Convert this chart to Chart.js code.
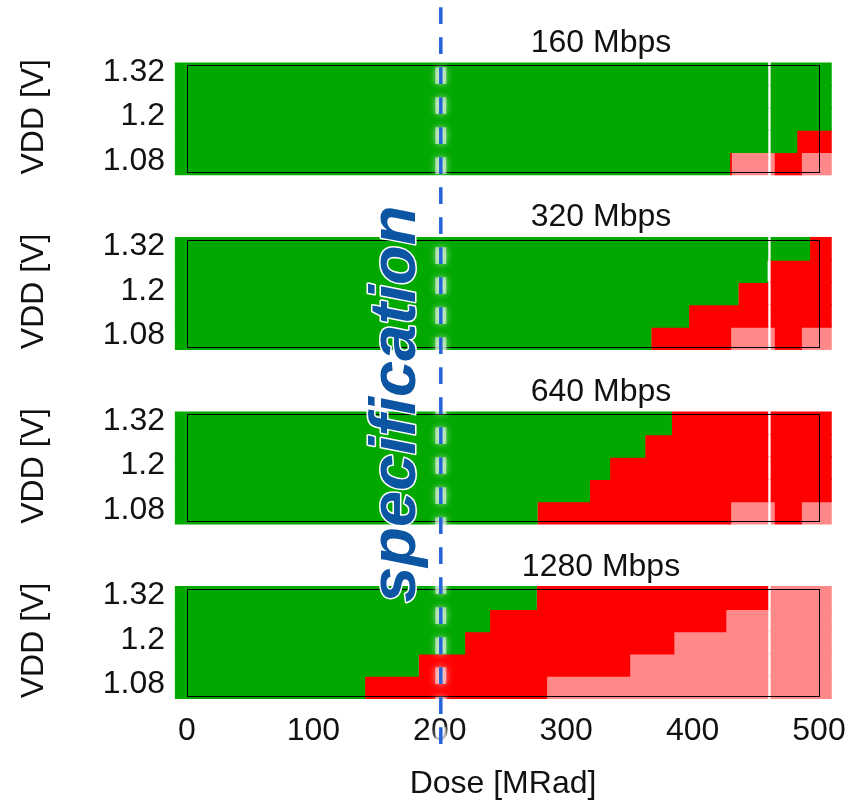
<!DOCTYPE html>
<html>
<head>
<meta charset="utf-8">
<script src="https://cdn.jsdelivr.net/npm/chart.js@4/dist/chart.umd.min.js"></script>
<style>
  html, body { margin: 0; padding: 0; background: #fff; }
  #wrap { position: relative; width: 859px; height: 801px; }
</style>
</head>
<body>
<div id="wrap"><canvas id="scan"></canvas></div>
<script>
// VDD rows, bottom to top
const vddLevels = [1.08, 1.14, 1.2, 1.26, 1.32];
const vddTicks = [1.08, 1.2, 1.32];
const doseTicks = [0, 100, 200, 300, 400, 500];
const rateLabels = ['160 Mbps', '320 Mbps', '640 Mbps', '1280 Mbps'];
const specDose = 200;

// one list per VDD row (bottom to top): [status, dose from, dose to]
// G = pass, R = fail, P = light red
const scan160 = [
  [['G', -9.5, 429.6], ['R', 429.6, 431], ['P', 431, 459.8], ['P', 461.8, 465], ['R', 465, 486.4], ['P', 486.4, 510]],
  [['G', -9.5, 459.8], ['G', 461.8, 482.7], ['R', 482.7, 510]],
  [['G', -9.5, 459.8], ['G', 461.8, 510]],
  [['G', -9.5, 459.8], ['G', 461.8, 510]],
  [['G', -9.5, 459.8], ['G', 461.8, 510]]
];
const scan320 = [
  [['G', -9.5, 367.3], ['R', 367.3, 430.4], ['P', 430.4, 459.8], ['P', 461.8, 465], ['R', 465, 486.4], ['P', 486.4, 510]],
  [['G', -9.5, 397.2], ['R', 397.2, 459.8], ['R', 461.8, 510]],
  [['G', -9.5, 436.2], ['R', 436.2, 459.8], ['R', 461.8, 510]],
  [['G', -9.5, 459.3], ['R', 461.8, 510]],
  [['G', -9.5, 459.8], ['G', 461.8, 492.9], ['R', 492.9, 510]]
];
const scan640 = [
  [['G', -9.5, 277.3], ['R', 277.3, 430.4], ['P', 430.4, 459.8], ['P', 461.8, 465], ['R', 465, 486.4], ['P', 486.4, 510]],
  [['G', -9.5, 318.7], ['R', 318.7, 459.8], ['R', 461.8, 510]],
  [['G', -9.5, 334.7], ['R', 334.7, 459.8], ['R', 461.8, 510]],
  [['G', -9.5, 362.5], ['R', 362.5, 459.8], ['R', 461.8, 510]],
  [['G', -9.5, 383.6], ['R', 383.6, 459.8], ['R', 461.8, 510]]
];
const scan1280 = [
  [['G', -9.5, 140.9], ['R', 140.9, 284.8], ['P', 284.8, 459.8], ['P', 461.8, 510]],
  [['G', -9.5, 183.3], ['R', 183.3, 350.6], ['P', 350.6, 459.8], ['P', 461.8, 510]],
  [['G', -9.5, 220], ['R', 220, 385.6], ['P', 385.6, 459.8], ['P', 461.8, 510]],
  [['G', -9.5, 239.7], ['R', 239.7, 426.7], ['P', 426.7, 459.8], ['P', 461.8, 510]],
  [['G', -9.5, 276.7], ['R', 276.7, 459.8], ['P', 461.8, 510]]
];

const scans = [scan160, scan320, scan640, scan1280];
const statusColors = { G: '#00a800', R: '#ff0000', P: '#ff8888' };
const FONT = '"Liberation Sans", Arial, sans-serif';

// one floating-bar dataset per panel and status
const datasets = [];
scans.forEach((rows, p) => {
  Object.keys(statusColors).forEach(code => {
    const pts = [];
    rows.forEach((segs, r) => {
      segs.forEach(([s, from, to]) => {
        if (s === code) pts.push({ x: [from, to], y: vddLevels[r] });
      });
    });
    datasets.push({
      label: rateLabels[p] + ' ' + code,
      data: pts,
      yAxisID: 'y' + p,
      backgroundColor: statusColors[code],
      borderWidth: 0,
      inflateAmount: 0.1,
      grouped: false,
      barPercentage: 1.06,
      categoryPercentage: 1,
      clip: false
    });
  });
});

const scales = {
  x: {
    type: 'linear',
    position: 'bottom',
    min: 0,
    max: 500,
    afterBuildTicks: s => { s.ticks = doseTicks.map(v => ({ value: v })); },
    afterFit: s => { s.height = 102.7; s.paddingLeft = 0; s.paddingRight = 0; },
    grid: { display: false, drawTicks: false },
    border: { display: false },
    ticks: { color: '#111', padding: 14, maxRotation: 0, autoSkip: false, font: { family: FONT, size: 32 } },
    title: { display: true, text: 'Dose [MRad]', color: '#111', padding: { top: 0, bottom: -2 }, font: { family: FONT, size: 32 } }
  }
};
rateLabels.forEach((t, p) => {
  scales['y' + p] = {
    type: 'linear',
    position: 'left',
    stack: 'vdd',
    stackWeight: 1,
    weight: rateLabels.length - p,
    min: 1.05,
    max: 1.52,
    offset: false,
    afterBuildTicks: s => { s.ticks = vddTicks.map(v => ({ value: v })); },
    afterFit: s => { s.width = 187; s.paddingTop = 0; s.paddingBottom = 0; },
    grid: { display: false, drawTicks: false },
    border: { display: false },
    ticks: {
      color: '#111', padding: 22, labelOffset: -2.5, autoSkip: false,
      font: { family: FONT, size: 32 },
      callback: v => v.toString()
    },
    title: { display: true, text: 'VDD [V]', align: 'start', color: '#111', padding: { top: 15, bottom: 0 }, font: { family: FONT, size: 32 } }
  };
});

// frames, panel titles, specification line and label
const panelDecor = {
  id: 'panelDecor',
  afterDatasetsDraw(chart) {
    const { ctx, chartArea } = chart;
    const xs = chart.scales.x;
    ctx.save();
    rateLabels.forEach((t, p) => {
      const ys = chart.scales['y' + p];
      const x0 = Math.round(xs.getPixelForValue(xs.min)) + 0.5;
      const x1 = Math.round(xs.getPixelForValue(xs.max)) + 0.5;
      const y0 = Math.round(ys.getPixelForValue(1.345)) + 0.5;
      const y1 = Math.round(ys.getPixelForValue(1.056)) + 0.5;
      ctx.strokeStyle = '#000';
      ctx.lineWidth = 1;
      ctx.strokeRect(x0, y0, x1 - x0, y1 - y0);
      ctx.font = '32px ' + FONT;
      ctx.fillStyle = '#111';
      ctx.textAlign = 'center';
      ctx.textBaseline = 'middle';
      ctx.fillText(t, (chartArea.left + chartArea.right) / 2 + 98, ys.top + 43);
    });
    ctx.restore();
  },
  afterDraw(chart) {
    const { ctx, chartArea } = chart;
    const x = chart.scales.x.getPixelForValue(specDose) + 1;
    ctx.save();
    ctx.setLineDash([16.7, 13.3]);
    ctx.beginPath();
    ctx.moveTo(x, chartArea.top - 22.7);
    ctx.lineTo(x, chartArea.bottom + 54);
    ctx.strokeStyle = 'rgba(255,255,255,0.55)';
    ctx.lineWidth = 11;
    ctx.shadowColor = '#fff';
    ctx.shadowBlur = 7;
    ctx.stroke();
    ctx.shadowBlur = 0;
    ctx.strokeStyle = '#2563d9';
    ctx.lineWidth = 3.5;
    ctx.stroke();
    ctx.restore();

    ctx.save();
    ctx.translate(x - 26, (chartArea.top + chartArea.bottom) / 2 + 55);
    ctx.rotate(-Math.PI / 2);
    ctx.font = 'italic bold 65px ' + FONT;
    ctx.textAlign = 'center';
    ctx.textBaseline = 'alphabetic';
    ctx.lineJoin = 'round';
    ctx.lineWidth = 3;
    ctx.strokeStyle = '#fff';
    ctx.strokeText('specification', 0, 0);
    ctx.fillStyle = '#0b55a3';
    ctx.fillText('specification', 0, 0);
    ctx.restore();
  }
};

new Chart(document.getElementById('scan').getContext('2d'), {
  type: 'bar',
  data: { datasets: datasets },
  options: {
    indexAxis: 'y',
    responsive: true,
    maintainAspectRatio: false,
    animation: false,
    events: [],
    layout: { padding: { top: 0, right: 40, bottom: 0, left: 0 } },
    plugins: {
      legend: { display: false },
      tooltip: { enabled: false }
    },
    scales: scales
  },
  plugins: [panelDecor]
});
</script>
</body>
</html>
